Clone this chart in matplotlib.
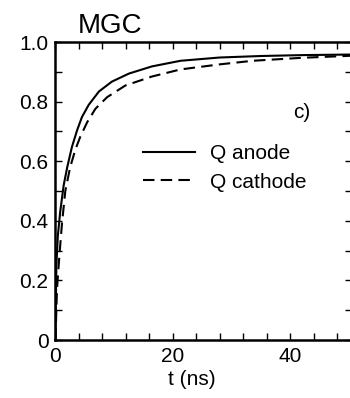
import matplotlib.pyplot as plt
from matplotlib.ticker import FixedFormatter, FixedLocator, MultipleLocator

plt.rcParams["font.family"] = ["Liberation Sans", "DejaVu Sans"]

# values
t_anode = [0, 0.05, 0.15, 0.4, 0.8, 1.4, 2.0, 2.8, 3.7, 4.5, 5.65, 7.4, 9.6, 12.5,
           16.4, 21.3, 28, 35, 42, 50.5]
q_anode = [0, 0.12, 0.25, 0.35, 0.43, 0.52, 0.58, 0.648, 0.705, 0.748, 0.789, 0.834,
           0.867, 0.894, 0.918, 0.937, 0.948, 0.953, 0.956, 0.958]
t_cathode = [0, 0.1, 0.25, 0.65, 1.1, 1.67, 2.5, 3.4, 4.2, 5.4, 6.8, 8.8, 11.9, 16.4,
             21.3, 28, 33.6, 42, 50.5]
q_cathode = [0, 0.07, 0.17, 0.28, 0.39, 0.50, 0.58, 0.64, 0.681, 0.731, 0.776, 0.815,
             0.854, 0.884, 0.908, 0.925, 0.937, 0.947, 0.954]

y_ticks = [0, 0.2, 0.4, 0.6, 0.8, 1.0]
y_labels = ["0", "0.2", "0.4", "0.6", "0.8", "1.0"]
x_ticks = [0, 20, 40]

fig = plt.figure(figsize=(3.5, 3.98), dpi=100)
ax = fig.add_axes([55.5 / 350, 1 - 340 / 398, 296.5 / 350, 298 / 398])

ax.plot(t_anode, q_anode, color="k", lw=1.5, solid_joinstyle="round", label="Q anode")
ax.plot(t_cathode, q_cathode, color="k", lw=1.5, ls=(0, (5.5, 3)), label="Q cathode")

ax.set_xlim(0, 50.5)
ax.set_ylim(0, 1.0)
ax.xaxis.set_major_locator(FixedLocator(x_ticks))
ax.xaxis.set_minor_locator(MultipleLocator(4))
ax.yaxis.set_major_locator(FixedLocator(y_ticks))
ax.yaxis.set_major_formatter(FixedFormatter(y_labels))
ax.yaxis.set_minor_locator(MultipleLocator(0.1))
ax.tick_params(which="both", direction="in", top=True, right=True, labelsize=15,
               width=1, length=5, pad=5)
for s in ax.spines.values():
    s.set_linewidth(1.8)

ax.set_xlabel("t (ns)", fontsize=15, va="top")
ax.xaxis.set_label_coords(0.46, -0.1)
fig.text(0.314, 1 - 33 / 398, "MGC", fontsize=20, ha="center", va="baseline")
ax.text(0.80, 0.745, "c)", transform=ax.transAxes, fontsize=15, va="baseline")

ax.legend(loc="upper left", bbox_to_anchor=(0.295, 0.657), frameon=False, fontsize=15,
          handlelength=2.5, handletextpad=0.72, labelspacing=0.45, borderpad=0,
          borderaxespad=0)

fig.savefig("out.png")
